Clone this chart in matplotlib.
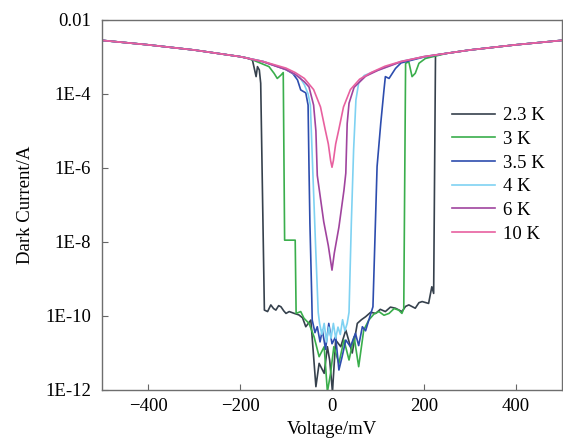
import numpy as np
import matplotlib
matplotlib.use("Agg")
import matplotlib.pyplot as plt

# voltage in mV, current given as log10(I / A)
v_23 = [-500, -400, -300, -250, -200, -187, -173, -165, -162, -158, -155, -147, -140, -133, -127, -122, -116, -111,
        -105, -100, -93, -82, -72, -64, -57, -46, -35, -28, -17, -10, -5, 1, 8, 19, 30, 44, 55, 64, 73, 84, 95, 105, 116,
        127, 138, 152, 160, 167, 181, 189, 196, 210, 217, 221, 225, 250, 300, 400, 500]
e_23 = [-2.55, -2.67, -2.81, -2.90, -2.99, -3.02, -3.08, -3.53, -3.26, -3.35, -3.71, -9.84, -9.88, -9.70, -9.80, -9.84,
        -9.72, -9.75, -9.86, -9.93, -9.88, -9.93, -9.97, -10.05, -10.29, -10.11, -11.91, -11.28, -11.55, -10.83, -11.2,
        -12.05, -10.65, -10.83, -10.38, -11.0, -10.2, -10.1, -10.02, -9.9, -9.93, -9.82, -9.88, -9.76, -9.79, -9.88, -9.74,
        -9.70, -9.79, -9.64, -9.61, -9.66, -9.21, -9.39, -2.95, -2.90, -2.81, -2.67, -2.55]

v_3 = [-500, -400, -300, -250, -200, -180, -137, -126, -119, -111, -106, -103, -80, -78, -68, -61, -50, -39, -28, -17,
       -10, -3, 4, 15, 26, 37, 48, 58, 69, 80, 91, 102, 113, 124, 135, 145, 152, 156, 160, 167, 174, 181, 189, 203, 250,
       300, 400, 500]
e_3 = [-2.55, -2.67, -2.81, -2.90, -2.99, -3.04, -3.26, -3.44, -3.58, -3.49, -3.42, -7.95, -7.95, -9.93, -9.88, -10.06,
       -10.2, -10.56, -11.1, -10.83, -12.05, -11.54, -10.83, -11.28, -10.65, -11.19, -10.56, -11.37, -10.38, -10.11,
       -9.95, -9.88, -9.98, -9.93, -9.80, -9.84, -9.93, -9.80, -3.17, -3.13, -3.53, -3.44, -3.17, -3.04, -2.90, -2.81,
       -2.67, -2.55]

v_35 = [-500, -400, -300, -250, -200, -150, -100, -85, -75, -68, -57, -52, -50, -48, -46, -44, -43, -37, -32, -26, -21,
        -14, -7, 0, 8, 15, 22, 30, 40, 51, 58, 66, 73, 80, 89, 98, 106, 113, 116, 124, 138, 150, 200, 250, 300, 400, 500]
e_35 = [-2.55, -2.67, -2.81, -2.90, -2.99, -3.12, -3.34, -3.45, -3.62, -3.89, -3.97, -4.3, -6.0, -7.5, -8.5, -9.5,
        -10.11, -10.45, -10.29, -10.7, -10.38, -10.9, -10.2, -10.75, -10.56, -11.46, -11.1, -10.65, -10.83, -10.47,
        -10.8, -10.29, -10.4, -10.11, -9.75, -5.96, -4.79, -3.89, -3.53, -3.58, -3.31, -3.16, -3.0, -2.90, -2.81,
        -2.67, -2.55]

v_4 = [-500, -400, -300, -250, -200, -150, -100, -70, -60, -52, -47, -42, -36, -30, -27, -22, -17, -12, -7, -2, 3, 8,
       13, 18, 23, 28, 33, 37, 42, 47, 52, 58, 70, 90, 120, 150, 200, 250, 300, 400, 500]
e_4 = [-2.55, -2.67, -2.81, -2.90, -2.99, -3.12, -3.33, -3.55, -3.75, -4.0, -4.3, -6.0, -8.0, -9.9, -10.2, -10.5,
       -10.2, -10.7, -10.3, -10.6, -10.2, -10.6, -10.3, -10.5, -10.1, -10.4, -10.2, -9.9, -7.5, -5.5, -4.16, -3.70,
       -3.50, -3.40, -3.26, -3.12, -2.99, -2.90, -2.81, -2.67, -2.55]

v_6 = [-500, -400, -300, -250, -200, -150, -100, -80, -60, -50, -40, -35, -32, -18, -8, 0, 5, 15, 26, 30, 33, 37, 48,
       73, 100, 150, 200, 250, 300, 400, 500]
e_6 = [-2.55, -2.67, -2.81, -2.90, -2.99, -3.13, -3.34, -3.47, -3.67, -3.81, -4.3, -5.0, -6.2, -7.45, -8.1, -8.76,
       -8.3, -7.6, -6.6, -6.14, -4.8, -4.25, -3.82, -3.52, -3.36, -3.13, -2.99, -2.90, -2.81, -2.67, -2.55]

v_10 = [-500, -400, -300, -250, -200, -150, -100, -80, -60, -40, -25, -15, -8, -3, 0, 3, 8, 15, 25, 40, 60, 85, 115,
        150, 200, 250, 300, 400, 500]
e_10 = [-2.55, -2.67, -2.81, -2.90, -2.99, -3.12, -3.30, -3.42, -3.58, -3.88, -4.35, -4.95, -5.35, -5.8, -5.98, -5.8,
        -5.35, -4.95, -4.35, -3.88, -3.60, -3.42, -3.25, -3.12, -2.99, -2.90, -2.81, -2.67, -2.55]

curves = [
    ("2.3 K", v_23, e_23, "#36414d"),
    ("3 K", v_3, e_3, "#3aae4c"),
    ("3.5 K", v_35, e_35, "#2d4dae"),
    ("4 K", v_4, e_4, "#7fd2f2"),
    ("6 K", v_6, e_6, "#a0449e"),
    ("10 K", v_10, e_10, "#e8609f"),
]

y_ticks = [1e-2, 1e-4, 1e-6, 1e-8, 1e-10, 1e-12]
y_tick_labels = ["0.01", "1E-4", "1E-6", "1E-8", "1E-10", "1E-12"]
x_ticks = [-400, -200, 0, 200, 400]

plt.rcParams["font.family"] = ["Liberation Serif", "DejaVu Serif"]
plt.rcParams["font.size"] = 13.5

fig = plt.figure(figsize=(5.63, 4.46), dpi=100)
ax = fig.add_axes([102 / 563, 56 / 446, 460 / 563, 370 / 446])

for label, v, e, color in curves:
    ax.plot(v, 10.0 ** np.array(e), color=color, lw=1.2, label=label)

ax.set_yscale("log")
ax.set_xlim(-500, 500)
ax.set_ylim(1e-12, 1e-2)
ax.set_yticks(y_ticks)
ax.set_yticklabels(y_tick_labels)
ax.yaxis.set_minor_locator(matplotlib.ticker.NullLocator())
ax.set_xticks(x_ticks)
ax.tick_params(direction="in", length=4, width=0.8, color="#666666")
ax.tick_params(axis="y", pad=8)
ax.tick_params(axis="x", pad=6)
for s in ax.spines.values():
    s.set_color("#6e6e6e")
    s.set_linewidth(1.0)

ax.set_xlabel("Voltage/mV", labelpad=4)
ax.set_ylabel("Dark Current/A", labelpad=8)

ax.legend(loc="upper left", bbox_to_anchor=(437 / 563, 1 - 92 / 446), bbox_transform=fig.transFigure,
          frameon=False, handlelength=2.3, handletextpad=0.43, labelspacing=0.35, borderpad=0.3)

fig.savefig("out.png", dpi=100)
